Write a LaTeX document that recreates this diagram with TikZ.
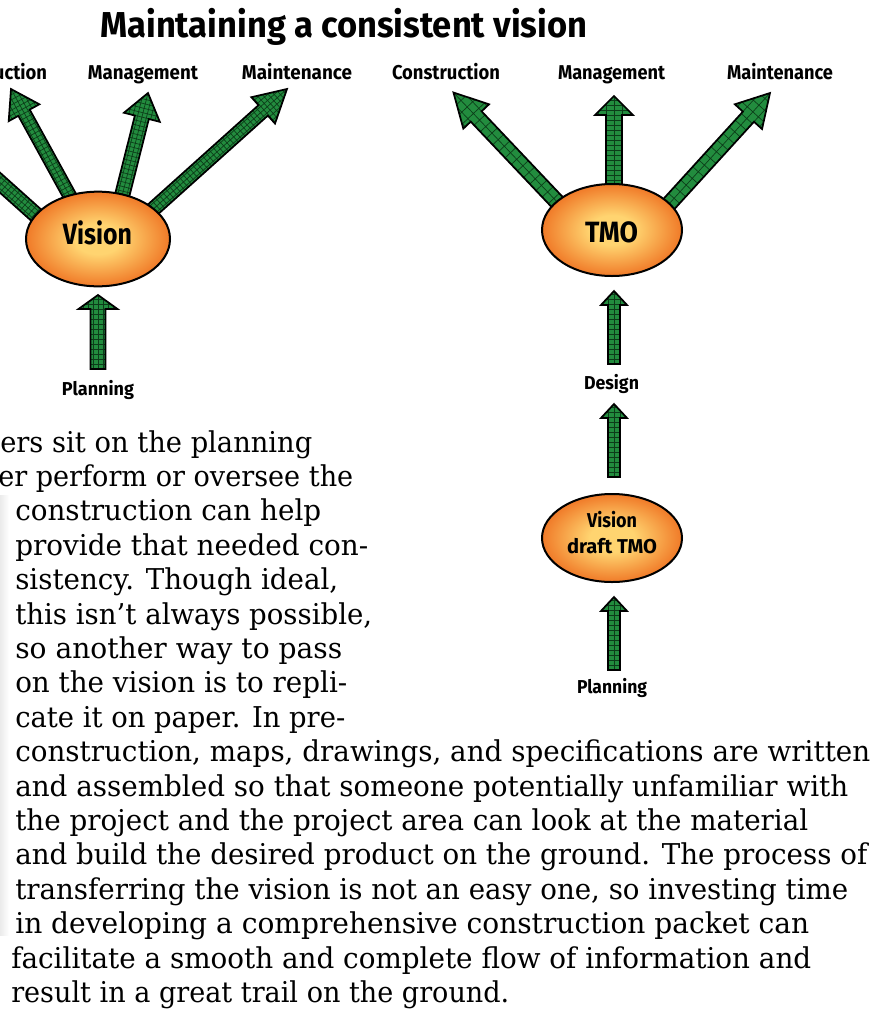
\documentclass[tikz,border=0pt]{standalone}
\usepackage{fontspec}
\usepackage{graphicx}
\setmainfont{DejaVu Serif}
\newfontfamily\comicf{Fira Sans}
\usetikzlibrary{shapes.geometric,calc}
\definecolor{agreen}{RGB}{34,140,62}
\definecolor{agrid}{RGB}{12,60,25}
\definecolor{egglight}{RGB}{255,212,112}
\definecolor{eggdark}{RGB}{240,122,40}
\pgfdeclareradialshading{eggshade}{\pgfpoint{0bp}{0bp}}{color(0bp)=(egglight); color(8bp)=(egglight); color(25bp)=(eggdark); color(50bp)=(eggdark)}
\newlength\pxu \setlength\pxu{0.75pt}
\newcommand\fitw[2]{\resizebox{#1\pxu}{\height}{#2}}
\newcommand\bodyfont{\fontsize{21.5}{25}\selectfont}
% block arrow: #1 tail, #2 tip, #3 shaft half width, #4 head half width, #5 head length, #6 xstep, #7 ystep (px)
\newcommand\blockarrow[7]{%
  \path let \p1=(#1), \p2=(#2) in \pgfextra{%
    \pgfmathsetmacro\baTmpA{atan2(\y2-\y1,\x2-\x1)}\xdef\baA{\baTmpA}%
    \pgfmathsetlengthmacro\baTmpB{veclen(\x2-\x1,\y2-\y1)}\xdef\baL{\baTmpB}};
  \pgfmathsetlengthmacro\baW{#3*0.75pt}%
  \pgfmathsetlengthmacro\baH{#4*0.75pt}%
  \pgfmathsetlengthmacro\baB{\baL-#5*0.75pt}%
  \pgfmathsetlengthmacro\baSX{#6*0.75pt}%
  \pgfmathsetlengthmacro\baSY{#7*0.75pt}%
  \begin{scope}[shift={(#1)},rotate=\baA]
    \fill[agreen] (0pt,-\baW) -- (\baB,-\baW) -- (\baB,-\baH) -- (\baL,0pt) -- (\baB,\baH) -- (\baB,\baW) -- (0pt,\baW) -- cycle;
    \begin{scope}
      \clip (0pt,-\baW) -- (\baB,-\baW) -- (\baB,-\baH) -- (\baL,0pt) -- (\baB,\baH) -- (\baB,\baW) -- (0pt,\baW) -- cycle;
      \draw[agrid, line width=0.5pt] (0pt,-\baH) grid[xstep=\baSX, ystep=\baSY] (\baL,\baH);
    \end{scope}
    \draw[arrowline] (0pt,-\baW) -- (\baB,-\baW) -- (\baB,-\baH) -- (\baL,0pt) -- (\baB,\baH) -- (\baB,\baW) -- (0pt,\baW) -- cycle;
  \end{scope}}
\tikzset{
  arrowline/.style={black, line width=1.3pt, line join=miter},
  egg/.style={ellipse, draw=black, line width=1.5pt, shade, shading=eggshade, inner sep=0pt},
  lab/.style={anchor=base, inner sep=0pt, font=\comicf\bfseries\fontsize{15}{18}\selectfont},
  smlab/.style={lab, font=\comicf\bfseries\fontsize{14}{17}\selectfont},
  biglab/.style={anchor=base, inner sep=0pt, font=\comicf\bfseries\fontsize{22}{26}\selectfont},
  body/.style={anchor=base west, inner sep=0pt, font=\bodyfont},
}
\begin{document}
\begin{tikzpicture}[x=0.75pt,y=-0.75pt]
\useasboundingbox (0,0) rectangle (885,1011);
\fill[white] (0,0) rectangle (885,1011);
\clip (0,0) rectangle (885,1011);

% faint shadow on the left edge
\shade[left color=black!8, right color=white] (0,495) rectangle (9,935);

% title
\node[anchor=base west, inner sep=0pt, font=\comicf\bfseries\fontsize{27}{32}\selectfont] (title) at (100,37) {\fitw{487}{Maintaining a consistent vision}};

% top labels
\node[lab] (lcon) at (-7,79) {\fitw{108}{Construction}};
\node[lab] (lman) at (143,79) {\fitw{110}{Management}};
\node[lab] (lmai) at (297,79) {\fitw{110}{Maintenance}};
\node[lab] (rcon) at (446,79) {\fitw{108}{Construction}};
\node[lab] (rman) at (611.5,79) {\fitw{107}{Management}};
\node[lab] (rmai) at (780,79) {\fitw{106}{Maintenance}};

% bottom labels
\node[smlab] (lplan) at (98,395) {\fitw{72}{Planning}};
\node[smlab] (rdes) at (611.5,389) {\fitw{55}{Design}};
\node[smlab] (rplan) at (612,693) {\fitw{70}{Planning}};

% arrow end coordinates
\coordinate (a1t) at (45,223);  \coordinate (a1h) at (-80,111);
\coordinate (a2t) at (72,200);  \coordinate (a2h) at (11,89);
\coordinate (a3t) at (121,200); \coordinate (a3h) at (148,93);
\coordinate (a4t) at (150,212); \coordinate (a4h) at (287,89);
\coordinate (a5t) at (98,369);  \coordinate (a5h) at (98,295);
\coordinate (b1t) at (560,205); \coordinate (b1h) at (453,92);
\coordinate (b2t) at (614,185); \coordinate (b2h) at (614,96);
\coordinate (b3t) at (668,205); \coordinate (b3h) at (770,93);
\coordinate (b4t) at (614,364); \coordinate (b4h) at (614,291);
\coordinate (b5t) at (614,477); \coordinate (b5h) at (614,404);
\coordinate (b6t) at (614,670); \coordinate (b6h) at (614,597);

% arrows, left diagram
\blockarrow{a1t}{a1h}{7.5}{18}{27}{4.5}{4.5}
\blockarrow{a2t}{a2h}{6.5}{17.5}{27}{4.5}{4.5}
\blockarrow{a3t}{a3h}{7.2}{18.5}{25}{4.5}{4.5}
\blockarrow{a4t}{a4h}{7}{17.7}{32}{4.5}{4.5}
\blockarrow{a5t}{a5h}{7.5}{19.5}{14}{5}{5}
% arrows, right diagram
\blockarrow{b1t}{b1h}{7.5}{17.7}{33}{9}{7.5}
\blockarrow{b2t}{b2h}{8}{19}{19}{5}{8}
\blockarrow{b3t}{b3h}{7.5}{18.4}{32}{9}{7.5}
\blockarrow{b4t}{b4h}{6}{13}{14}{5}{6}
\blockarrow{b5t}{b5h}{6}{13}{14}{5}{6}
\blockarrow{b6t}{b6h}{6}{13}{14}{5}{6}

% ellipses
\node[egg, minimum width=108pt, minimum height=71pt] (vis) at (98,239) {};
\node[egg, minimum width=105pt, minimum height=69pt] (tmo) at (612,230) {};
\node[egg, minimum width=105pt, minimum height=66pt] (draft) at (612,538) {};
\node[biglab] (vist) at (97.5,244) {\fitw{69}{Vision}};
\node[biglab] (tmot) at (611.5,242) {\fitw{53}{TMO}};
\node[lab] (dr1) at (612,527) {\fitw{50}{Vision}};
\node[lab] (dr2) at (612,553) {\fitw{90}{draft TMO}};

% body text
\node[body] (t1) at (0,452) {\fitw{312}{ers sit on the planning}};
\node[body] (t2) at (-2,486.4) {\fitw{355}{er perform or oversee the}};
\node[body] (t3) at (15,520.8) {\fitw{306}{construction can help}};
\node[body] (t4) at (15,555.2) {\fitw{353}{provide that needed con-}};
\node[body] (t5) at (15,589.6) {\fitw{323}{sistency. Though ideal,}};
\node[body] (t6) at (15,624) {\fitw{357}{this isn’t always possible,}};
\node[body] (t7) at (15,658.4) {\fitw{327}{so another way to pass}};
\node[body] (t8) at (15,692.8) {\fitw{332}{on the vision is to repli-}};
\node[body] (t9) at (15,727.2) {\fitw{330}{cate it on paper. In pre-}};
\node[body] (t10) at (15,761.6) {\fitw{855}{construction, maps, drawings, and specifications are written}};
\node[body] (t11) at (15,796) {\fitw{833}{and assembled so that someone potentially unfamiliar with}};
\node[body] (t12) at (15,830.4) {\fitw{793}{the project and the project area can look at the material}};
\node[body] (t13) at (15,864.8) {\fitw{852}{and build the desired product on the ground. The process of}};
\node[body] (t14) at (15,899.2) {\fitw{833}{transferring the vision is not an easy one, so investing time}};
\node[body] (t15) at (15,933.6) {\fitw{794}{in developing a comprehensive construction packet can}};
\node[body] (t16) at (11,968) {\fitw{800}{facilitate a smooth and complete flow of information and}};
\node[body] (t17) at (11,1002.4) {\fitw{498}{result in a great trail on the ground.}};
\end{tikzpicture}
\end{document}
